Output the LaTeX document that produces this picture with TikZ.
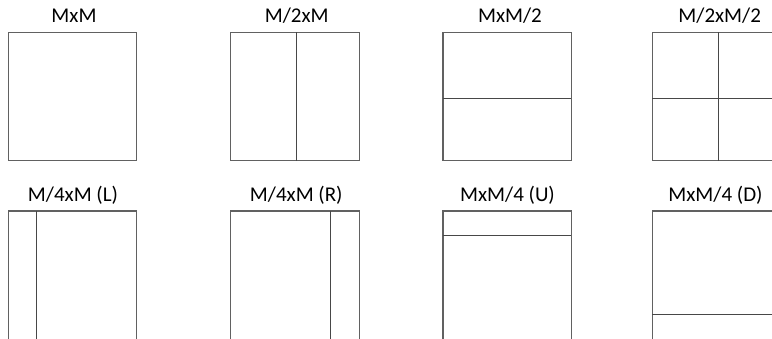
\documentclass[tikz,border=0pt]{standalone}
\usepackage{fontspec}
\setmainfont{Carlito}
\begin{document}
\begin{tikzpicture}[x=1pt,y=-1pt,
  frame/.style={draw=black!62,line width=1.1pt},
  split/.style={draw=black!72,line width=1.1pt},
  lbl/.style={anchor=base,inner sep=0pt,font=\fontsize{21}{25}\selectfont}]
\clip (0,0) rectangle (772,338);
\fill[white] (0,0) rectangle (772,338);
\def\S{128.4}
% row 1
\draw[frame] (8.5,32.3) rectangle ++(\S,\S);
\node[lbl] (t1) at (74,22.7) {MxM};
\draw[frame] (230.7,32.3) rectangle ++(\S,\S);
\draw[split] (296.3,32.3) -- ++(0,\S);
\node[lbl] (t2) at (296.7,22.7) {M/2xM};
\draw[frame] (443,32.3) rectangle ++(\S,\S);
\draw[split] (443,98.3) -- ++(\S,0);
\node[lbl] (t3) at (510,22.7) {MxM/2};
\draw[frame] (652.3,32.3) rectangle ++(\S,\S);
\draw[split] (718.3,32.3) -- ++(0,\S);
\draw[split] (652.3,98.3) -- ++(\S,0);
\node[lbl] (t4) at (719.7,22.7) {M/2xM/2};
% row 2
\draw[frame] (8.5,211) rectangle ++(\S,\S);
\draw[split] (36.7,211) -- ++(0,\S);
\node[lbl] (t5) at (73,201.7) {M/4xM (L)};
\draw[frame] (230.7,211) rectangle ++(\S,\S);
\draw[split] (330.3,211) -- ++(0,\S);
\node[lbl] (t6) at (296.3,201.7) {M/4xM (R)};
\draw[frame] (443,211) rectangle ++(\S,\S);
\draw[split] (443,235.7) -- ++(\S,0);
\node[lbl] (t7) at (507.5,201.7) {MxM/4 (U)};
\draw[frame] (652.3,211) rectangle ++(\S,\S);
\draw[split] (652.3,314.3) -- ++(\S,0);
\node[lbl] (t8) at (715.5,201.7) {MxM/4 (D)};
\end{tikzpicture}
\end{document}
